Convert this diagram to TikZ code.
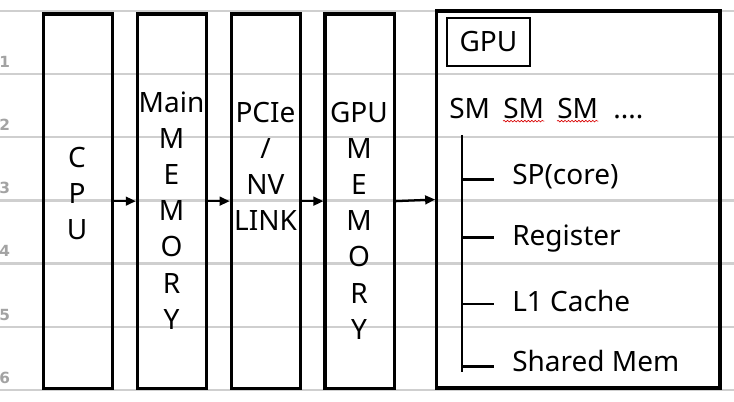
\documentclass[tikz,border=0pt]{standalone}
\usepackage{fontspec}
\setmainfont{Noto Sans}
\newfontfamily\numfont{DejaVu Sans}
\usetikzlibrary{arrows.meta,decorations.pathmorphing}
\begin{document}
\begin{tikzpicture}[x=0.75pt,y=-0.75pt,
  rule/.style={draw=black!19, line width=2.2pt},
  rownum/.style={anchor=base west, inner sep=0pt, text=black!36, font=\numfont\fontsize{11.5}{14}\selectfont\bfseries},
  block/.style={draw, line width=2.3pt, inner sep=0pt, minimum width=52pt, minimum height=280.7pt},
  gpubox/.style={draw, line width=2.3pt, inner sep=0pt, minimum width=212.5pt, minimum height=282.75pt},
  titlebox/.style={draw, line width=0.8pt, inner sep=0pt, minimum width=62.25pt, minimum height=36pt, font=\fontsize{21}{25}\selectfont},
  lbl/.style={anchor=base, inner sep=0pt, font=\fontsize{21}{25}\selectfont},
  lblw/.style={anchor=base west, inner sep=0pt, font=\fontsize{21}{25}\selectfont},
  arr/.style={-{Triangle[length=7.5pt,width=6.5pt]}, line width=1.7pt},
  treeline/.style={line width=2.2pt},
  wavy/.style={draw=red!85!black, line width=0.5pt, decorate, decoration={snake, amplitude=0.6pt, segment length=2.6pt}}
]
\useasboundingbox (0,0) rectangle (734,402);
% ruled lines and row numbers
\foreach \yy in {11,74,137,200.5,263.5,327,390}
  \draw[rule] (0,\yy) -- (734,\yy);
\foreach \yy [count=\k] in {74,137,200.5,263.5,327,390}
  \node[rownum] (row\k) at (-1,{\yy-6.5}) {\k};
% blocks
\node[block] (cpu) at (78,201.15) {};
\node[block] (main) at (172,201.15) {};
\node[block] (pcie) at (265.85,201.15) {};
\node[block] (gmem) at (359.65,201.15) {};
\node[gpubox] (gpu) at (578.35,199.5) {};
% block texts
\foreach \t [count=\i] in {C,P,U}
  \node[lbl] (cpu\i) at (77,{168+36*(\i-1)}) {\t};
\foreach \t [count=\i] in {Main,M,E,M,O,R,Y}
  \node[lbl] (main\i) at (171.5,{113+36*(\i-1)}) {\t};
\foreach \t [count=\i] in {PCIe,/,NV,LINK}
  \node[lbl] (pcie\i) at (265.5,{123+36*(\i-1)}) {\t};
\foreach \t [count=\i] in {GPU,M,E,M,O,R,Y}
  \node[lbl] (gmem\i) at (359,{123+36*(\i-1)}) {\t};
% arrows
\draw[arr] (cpu) -- (main);
\draw[arr] (main) -- (pcie);
\draw[arr] (pcie) -- (gmem);
\draw[arr] (gmem.east) -- (gpu.west);
% GPU contents
\node[titlebox] (gputitle) at (488.5,42) {GPU};
\node[lblw] (sm1) at (449,119) {SM};
\node[lblw] (sm2) at (503,119) {SM};
\node[lblw] (sm3) at (557,119) {SM};
\node[lblw] (dots) at (613,119) {....};
\draw[wavy] ([yshift=-1.6pt]sm2.base west) -- ([yshift=-1.6pt]sm2.base east);
\draw[wavy] ([yshift=-1.6pt]sm3.base west) -- ([yshift=-1.6pt]sm3.base east);
% tree
\coordinate (t0) at (462,135);
\coordinate (t1) at (462,371.7);
\draw[treeline] (t0) -- (t1);
\foreach \yy [count=\k] in {179.3,237.3,304,366.7} {
  \coordinate (b\k) at (462,\yy);
  \coordinate (e\k) at (494,\yy);
  \draw[treeline] (b\k) -- (e\k);
}
\node[lblw] (sp) at (512,185) {SP(core)};
\node[lblw] (reg) at (512,246) {Register};
\node[lblw] (l1) at (512,311) {L1 Cache};
\node[lblw] (shm) at (512,371) {Shared Mem};
\end{tikzpicture}
\end{document}
